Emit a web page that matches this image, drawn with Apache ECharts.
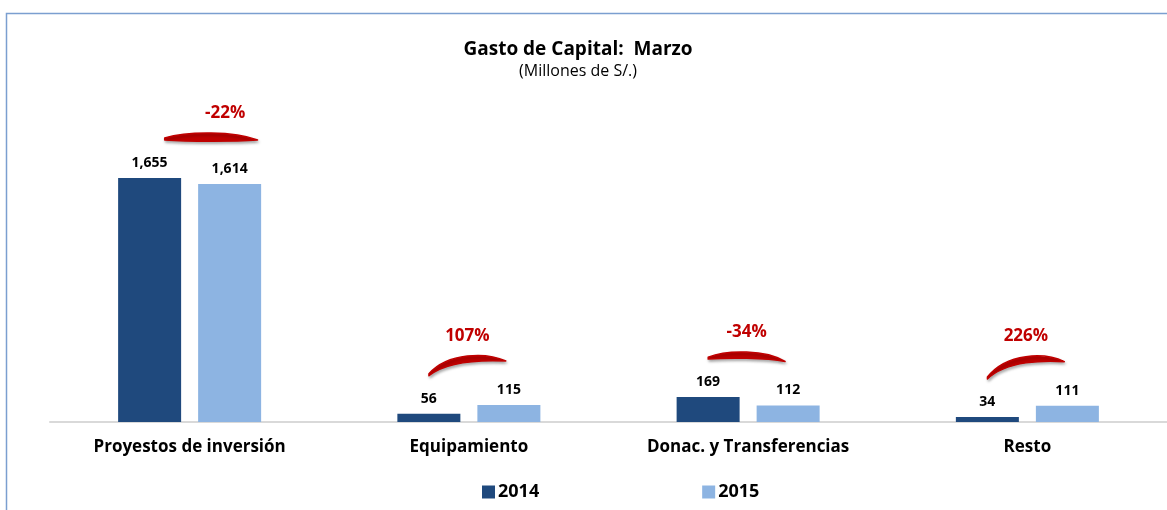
<!DOCTYPE html>
<html>
<head>
<meta charset="utf-8">
<script src="https://cdn.jsdelivr.net/npm/echarts@6/dist/echarts.min.js"></script>
<style>
html,body{margin:0;padding:0;background:#fff;}
#c{width:1167px;height:510px;}
</style>
</head>
<body>
<div id="c"></div>
<script>
var categories = ['Proyestos de inversión', 'Equipamiento', 'Donac. y Transferencias', 'Resto'];
var values2014 = [1655, 56, 169, 34];
var values2015 = [1614, 115, 112, 111];
var changeLabels = ['-22%', '107%', '-34%', '226%'];
var seriesNames = ['2014', '2015'];

var FONT = '"Open Sans", sans-serif';
var chart = echarts.init(document.getElementById('c'));

var arcData = categories.map(function (c, i) {
  return [i, values2014[i], values2015[i], changeLabels[i]];
});

function renderArc(params, api) {
  var idx = api.value(0);
  var v1 = api.value(1), v2 = api.value(2);
  var center = api.coord([idx, 0]);
  var band = api.size([1, 0])[0];
  var off = band * 0.143;
  var top1 = api.coord([idx, v1])[1];
  var top2 = api.coord([idx, v2])[1];
  var big = (params.dataIndex === 0);
  var sx = center[0] - off + (big ? 15 : 0);
  var ex = center[0] + off + (big ? 28 : -3);
  var sy = top1 - 40;
  var ey = top2 - 44;
  var peak = Math.min(sy, ey) - 5;
  var w = ex - sx;
  var c = (peak - (sy + ey) / 8) / 0.75;
  var t = big ? 8 : 6;
  var c1x = sx + w * 0.25, c2x = ex - w * 0.25;
  var path = 'M' + sx + ' ' + sy +
    ' C' + c1x + ' ' + c + ' ' + c2x + ' ' + c + ' ' + ex + ' ' + ey +
    ' C' + (c2x) + ' ' + (c + t * 1.33) + ' ' + (c1x) + ' ' + (c + t * 1.33) + ' ' + sx + ' ' + (sy + 2) + ' Z';
  return {
    type: 'group',
    children: [
      {
        type: 'path',
        shape: { pathData: path },
        style: {
          fill: '#C00000',
          stroke: '#C00000',
          lineWidth: 1.5,
          lineJoin: 'round',
          shadowBlur: 3,
          shadowColor: 'rgba(0,0,0,0.3)',
          shadowOffsetX: 1,
          shadowOffsetY: 2
        }
      },
      {
        type: 'text',
        style: {
          text: api.value(3),
          x: (sx + ex) / 2 + (big ? 14 : 0),
          y: peak - 20,
          align: 'center',
          verticalAlign: 'middle',
          fill: '#C00000',
          font: 'bold 17px ' + FONT
        }
      }
    ]
  };
}

chart.setOption({
  animation: false,
  title: {
    text: 'Gasto de Capital:  Marzo',
    subtext: '(Millones de S/.)',
    left: 573,
    textAlign: 'center',
    top: 35,
    itemGap: 4,
    textStyle: { fontFamily: FONT, fontSize: 19, fontWeight: 'bold', color: '#000' },
    subtextStyle: { fontFamily: FONT, fontSize: 16, color: '#000' }
  },
  graphic: [{
    type: 'rect',
    silent: true,
    shape: { x: 6.5, y: 13.5, width: 2000, height: 2000 },
    style: { fill: 'none', stroke: '#7B9FD0', lineWidth: 1.5 }
  }],
  legend: {
    data: seriesNames,
    left: 477,
    top: 478,
    itemWidth: 13,
    itemHeight: 13,
    itemGap: 163,
    icon: 'rect',
    textStyle: { fontFamily: FONT, fontSize: 18, fontWeight: 'bold', color: '#000', padding: [0, 0, 0, -2] }
  },
  grid: { left: 50, right: -3, top: 122, bottom: 88, containLabel: false },
  xAxis: {
    type: 'category',
    data: categories,
    axisTick: { show: false },
    axisLine: { lineStyle: { color: '#D9D9D9', width: 2 } },
    axisLabel: { margin: 17, fontFamily: FONT, fontSize: 17, fontWeight: 'bold', color: '#000' }
  },
  yAxis: {
    type: 'value', min: 0, max: 2035, show: false, splitLine: { show: false }
  },
  series: [
    {
      name: seriesNames[0], type: 'bar', data: values2014, barWidth: 63, barGap: '27%',
      itemStyle: { color: '#1F497D' },
      label: {
        show: true, position: 'top', distance: 8, color: '#000',
        fontFamily: FONT, fontSize: 14, fontWeight: 'bold',
        formatter: function (p) { return p.value.toLocaleString('en-US'); }
      }
    },
    {
      name: seriesNames[1], type: 'bar', data: values2015, barWidth: 63,
      itemStyle: { color: '#8DB4E2' },
      label: {
        show: true, position: 'top', distance: 8, color: '#000',
        fontFamily: FONT, fontSize: 14, fontWeight: 'bold',
        formatter: function (p) { return p.value.toLocaleString('en-US'); }
      }
    },
    {
      type: 'custom',
      renderItem: renderArc,
      data: arcData,
      encode: { x: 0, y: 1 },
      silent: true,
      z: 5
    }
  ]
});
</script>
</body>
</html>
